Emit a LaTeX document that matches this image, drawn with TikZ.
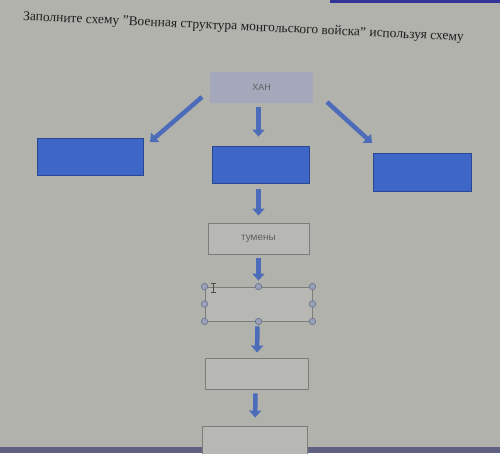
\documentclass[tikz,border=0pt]{standalone}
\usepackage{fontspec}
\setmainfont{Liberation Serif}
\setsansfont{Liberation Sans}
\usetikzlibrary{arrows.meta,calc}
\definecolor{bg}{HTML}{B2B2AD}
\definecolor{arrowblue}{HTML}{4C6CBA}
\definecolor{boxblue}{HTML}{3D66C6}
\definecolor{boxblueline}{HTML}{2A4892}
\definecolor{khanfill}{HTML}{A5A7BA}
\definecolor{greyfill}{HTML}{B7B7B3}
\definecolor{greyline}{HTML}{7C7C7A}
\definecolor{handle}{HTML}{9AA0B6}
\definecolor{handleline}{HTML}{66708E}
\begin{document}
\begin{tikzpicture}[x=1pt,y=-1pt,
  arr/.style={draw=arrowblue,line width=4.5pt,-{Triangle[width=12pt,length=7pt]}},
  bluebox/.style={draw=boxblueline,fill=boxblue,line width=0.8pt,inner sep=0pt},
  greybox/.style={draw=greyline,fill=greyfill,line width=0.9pt,inner sep=0pt,font=\sffamily\fontsize{10}{11}\selectfont,text=black!62},
  handledot/.style={circle,draw=handleline,fill=handle,inner sep=0pt,minimum size=6.5pt,line width=0.6pt}]
\fill[bg] (0,0) rectangle (500,453);
\useasboundingbox (0,0) rectangle (500,453);
% screen edges
\fill[blue!50!black!80] (330,0) rectangle (500,3);
\fill[black!45!blue!25!gray] (0,447) rectangle (500,453);
% title
\node[anchor=west,rotate=-2.7,inner sep=0pt,text=black!88] (title) at (23,17)
  {\resizebox{441pt}{!}{Заполните схему "Военная структура монгольского войска" используя схему}};
% boxes
\node[fill=khanfill,minimum width=103pt,minimum height=31pt,inner sep=0pt,
  font=\sffamily\fontsize{9}{10}\selectfont,text=black!62] (khan) at (261.5,87.5) {ХАН};
\node[bluebox,minimum width=106pt,minimum height=37pt] (left) at (90,156.5) {};
\node[bluebox,minimum width=97pt,minimum height=37pt] (mid) at (260.5,164.5) {};
\node[bluebox,minimum width=98pt,minimum height=38pt] (right) at (422,172) {};
\node[greybox,minimum width=101pt,minimum height=31pt] (tumen) at (258.5,238.5) {тумены};
\node[greybox,minimum width=107pt,minimum height=34pt] (sel) at (258.5,304) {};
\node[greybox,minimum width=103pt,minimum height=31pt] (b4) at (256.5,373.5) {};
\node[greybox,minimum width=105pt,minimum height=40pt] (b5) at (254.5,446) {};
% arrow ends
\coordinate (l1) at (202,97);
\coordinate (l2) at (150,142);
\coordinate (r1) at (327,102);
\coordinate (r2) at (372,143);
\draw[arr] (l1) -- (l2);
\draw[arr] (r1) -- (r2);
\draw[arr,shorten <=4pt,shorten >=9pt] ($(khan.south)+(-3,0)$) -- ($(mid.north)+(-2,0)$);
\draw[arr,shorten <=6pt,shorten >=7pt] ($(mid.south)+(-2,0)$) -- (tumen.north);
\draw[arr,shorten <=4pt,shorten >=6pt] (tumen.south) -- (sel.north);
\draw[arr,shorten <=5pt,shorten >=5pt] ($(sel.south)+(-1,0)$) -- ($(b4.north)+(0.5,0)$);
\draw[arr,shorten <=4pt,shorten >=8pt] ($(b4.south)+(-1,0)$) -- ($(b5.north)+(0.5,0)$);
% selection handles
\foreach \a in {north west,north,north east,east,south east,south,south west,west}
  \node[handledot] at (sel.\a) {};
% text cursor
\draw[black!70,line width=0.6pt] (213,283) -- (213,292) (210.5,283) -- (215.5,283) (210.5,292) -- (215.5,292);
\end{tikzpicture}
\end{document}
